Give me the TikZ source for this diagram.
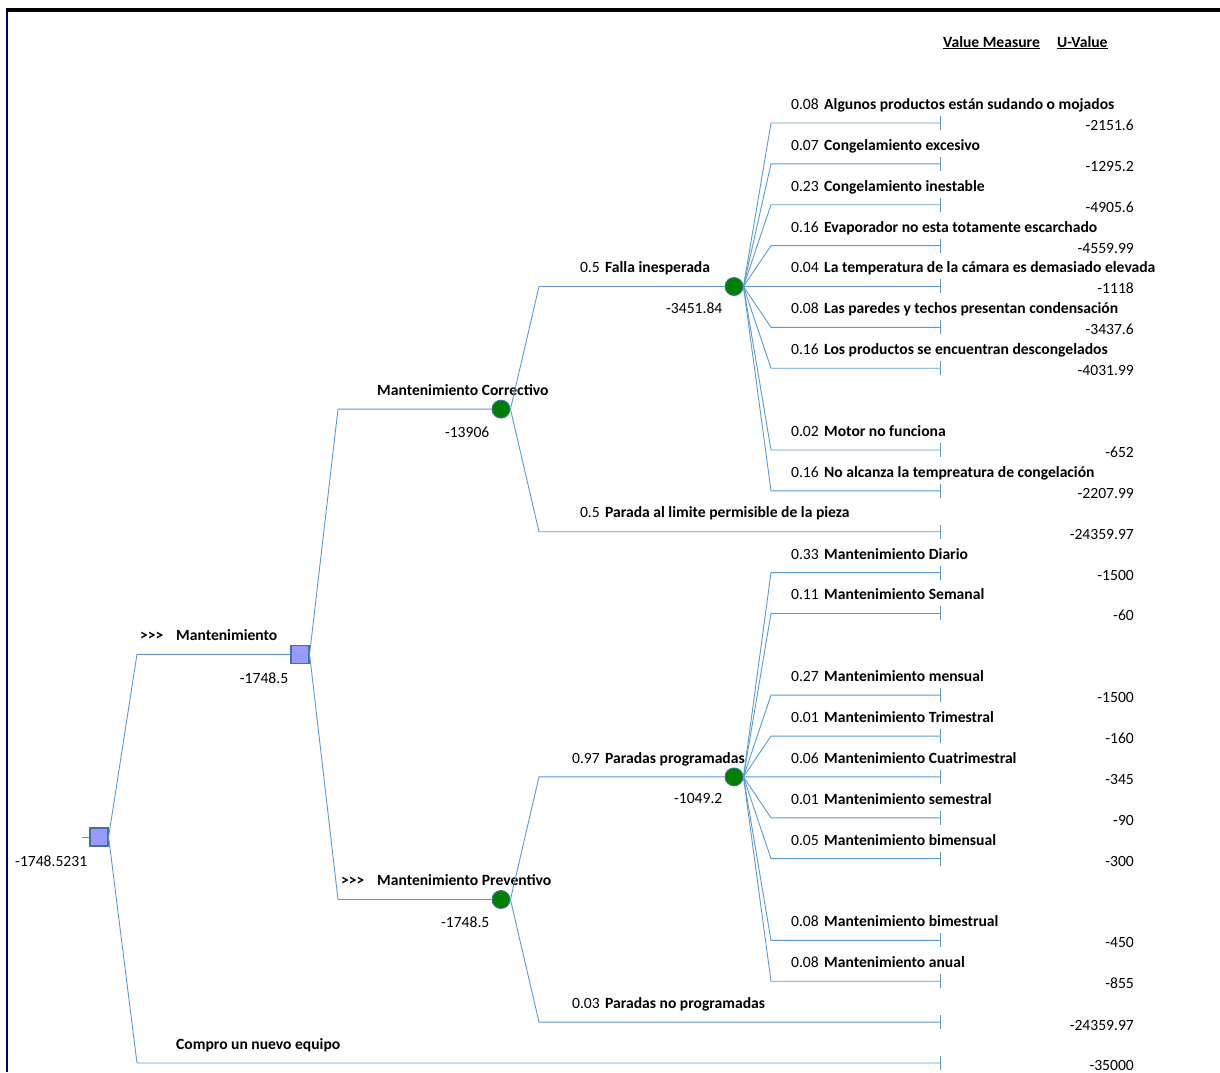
\documentclass[tikz,border=0pt]{standalone}
\usepackage{fontspec}
\setmainfont{Carlito}
\definecolor{lineblue}{RGB}{91,155,213}
\definecolor{decfill}{RGB}{153,153,255}
\definecolor{nodeedge}{RGB}{65,113,156}
\definecolor{chancefill}{RGB}{0,128,0}
\definecolor{navyframe}{RGB}{0,0,110}
\begin{document}
\begin{tikzpicture}[x=1pt,y=-1pt,
  br/.style={draw=lineblue, line width=0.9pt},
  tick/.style={draw=lineblue, line width=0.9pt},
  dec/.style={rectangle, minimum size=18pt, inner sep=0pt, fill=decfill, draw=nodeedge, line width=1.2pt},
  chance/.style={circle, minimum size=18pt, inner sep=0pt, fill=chancefill, draw=nodeedge, line width=0.9pt},
  txt/.style={font=\fontsize{15.6}{18}\selectfont, inner sep=0pt},
  val/.style={txt, anchor=base east},
  lab/.style={txt, anchor=base west, font=\fontsize{15.6}{18}\selectfont\bfseries},
  prob/.style={txt, anchor=base east}
]
\useasboundingbox (0,0) rectangle (1220,1072);
% frame
\draw[navyframe, line width=2.5pt] (7,10) -- (7,1072);
\draw[navyframe, line width=1pt] (6,11.5) -- (1220,11.5);
\draw[black, line width=2.5pt] (6,9.5) -- (1220,9.5);

% header
\node[txt, anchor=base west] (hvm) at (943,47) {\underline{\textbf{Value Measure}}};
\node[txt, anchor=base west] (huv) at (1057,47) {\underline{\textbf{U-Value}}};

% nodes
\node[dec] (R) at (99,837) {};
\node[dec] (M) at (300,654.3) {};
\node[chance] (C) at (501,409.1) {};
\node[chance] (V) at (501,899.5) {};
\node[chance] (F) at (734,286.5) {};
\node[chance] (Q) at (734,776.9) {};
\coordinate (stub) at (82,837);
\coordinate (tP) at (940,531.7);
\coordinate (tN) at (940,1022.1);
\coordinate (tC) at (940,1063);

% node values
\node[val] (vR) at ([shift={(-2,29)}]R.west) {-1748.5231};
\node[val] (vM) at ([shift={(-2,29)}]M.west) {-1748.5};
\node[val] (vC) at ([shift={(-2,28)}]C.west) {-13906};
\node[val] (vV) at ([shift={(-2,28)}]V.west) {-1748.5};
\node[val] (vF) at ([shift={(-2,27)}]F.west) {-3451.84};
\node[val] (vQ) at ([shift={(-2,27)}]Q.west) {-1049.2};

% root
\draw[br] (stub) -- (R.west);
\draw[br] (R.east) -- (137,654.3) -- (M.west);
\draw[br] (R.east) -- (137,1063) -- (tC);
\draw[tick] (tC) ++(0,-7) -- ++(0,14);
\node[lab] at (140,640.5) {>{}>{}>};
\node[lab] at (176,640.5) {Mantenimiento};
\node[lab] at (176,1049.5) {Compro un nuevo equipo};
\node[val] at (1134,1070) {-35000};

% Mantenimiento decision
\draw[br] (M.east) -- (338,409.1) -- (C.west);
\draw[br] (M.east) -- (338,899.5) -- (V.west);
\node[lab] at (377,395.5) {Mantenimiento Correctivo};
\node[lab] at (341,885.5) {>{}>{}>};
\node[lab] at (377,885.5) {Mantenimiento Preventivo};

% Correctivo chance
\draw[br] (C.east) -- (539,286.5) -- (F.west);
\draw[br] (C.east) -- (539,531.7) -- (tP);
\draw[tick] (tP) ++(0,-7) -- ++(0,14);
\node[prob] at (600,272.5) {0.5};
\node[lab] at (605,272.5) {Falla inesperada};
\node[prob] at (600,517.7) {0.5};
\node[lab] at (605,517.7) {Parada al limite permisible de la pieza};
\node[val] at (1134,539) {-24359.97};

% Preventivo chance
\draw[br] (V.east) -- (539,776.9) -- (Q.west);
\draw[br] (V.east) -- (539,1022.1) -- (tN);
\draw[tick] (tN) ++(0,-7) -- ++(0,14);
\node[prob] at (600,763) {0.97};
\node[lab] at (605,763) {Paradas programadas};
\node[prob] at (600,1008.3) {0.03};
\node[lab] at (605,1008.3) {Paradas no programadas};
\node[val] at (1134,1030) {-24359.97};

% Falla inesperada outcomes
\foreach \k/\p/\n/\v in {
  0/0.08/Algunos productos están sudando o mojados/-2151.6,
  1/0.07/Congelamiento excesivo/-1295.2,
  2/0.23/Congelamiento inestable/-4905.6,
  3/0.16/Evaporador no esta totamente escarchado/-4559.99,
  4/0.04/La temperatura de la cámara es demasiado elevada/-1118,
  5/0.08/Las paredes y techos presentan condensación/-3437.6,
  6/0.16/Los productos se encuentran descongelados/-4031.99,
  8/0.02/Motor no funciona/-652,
  9/0.16/No alcanza la tempreatura de congelación/-2207.99}{
  \pgfmathsetmacro\yy{123+40.87*\k}
  \coordinate (tf\k) at (940,\yy);
  \draw[br] (F.east) -- (771,\yy) -- (tf\k);
  \draw[tick] (tf\k) ++(0,-7) -- ++(0,14);
  \node[prob] at (819,\yy-13.5) {\p};
  \node[lab] at (824,\yy-13.5) {\n};
  \node[val] at (1134,\yy+7.5) {\v};
}

% Paradas programadas outcomes
\foreach \k/\p/\n/\v in {
  11/0.33/Mantenimiento Diario/-1500,
  12/0.11/Mantenimiento Semanal/-60,
  14/0.27/Mantenimiento mensual/-1500,
  15/0.01/Mantenimiento Trimestral/-160,
  16/0.06/Mantenimiento Cuatrimestral/-345,
  17/0.01/Mantenimiento semestral/-90,
  18/0.05/Mantenimiento bimensual/-300,
  20/0.08/Mantenimiento bimestrual/-450,
  21/0.08/Mantenimiento anual/-855}{
  \pgfmathsetmacro\yy{123+40.87*\k}
  \coordinate (tq\k) at (940,\yy);
  \draw[br] (Q.east) -- (771,\yy) -- (tq\k);
  \draw[tick] (tq\k) ++(0,-7) -- ++(0,14);
  \node[prob] at (819,\yy-13.5) {\p};
  \node[lab] at (824,\yy-13.5) {\n};
  \node[val] at (1134,\yy+7.5) {\v};
}
\end{tikzpicture}
\end{document}
